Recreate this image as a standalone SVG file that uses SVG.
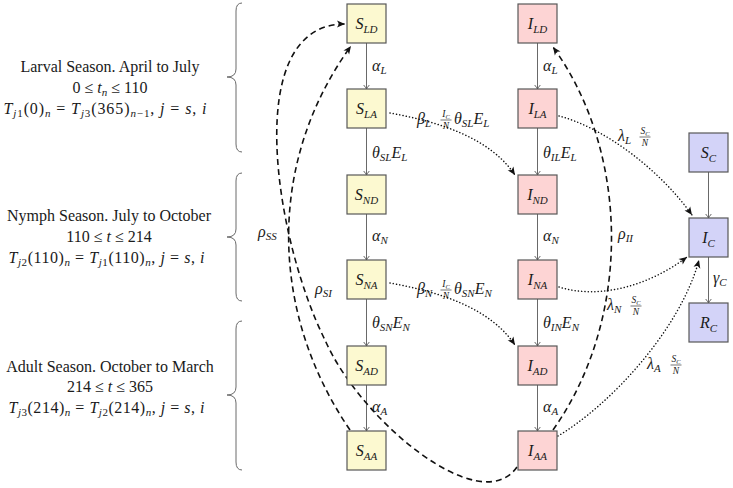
<svg xmlns="http://www.w3.org/2000/svg" width="733" height="488" viewBox="0 0 733 488">
<defs>
<style>
.bx{stroke:#585858;stroke-width:1.2}
.s{fill:#fcf9d0}.i{fill:#fdd4d4}.c{fill:#d3d3f8}
.t{font-family:"Liberation Serif","DejaVu Serif",serif;font-style:italic;font-size:16px;fill:#1a1a1a}
.sb{font-size:11px}
.f{font-family:"Liberation Serif","DejaVu Serif",serif;font-style:italic;font-size:9.5px;fill:#1a1a1a;text-anchor:middle}
.fs{font-size:6.5px}
.fb{stroke:#1a1a1a;stroke-width:0.6}
.tx{font-family:"Liberation Serif","DejaVu Serif",serif;font-size:16px;fill:#1a1a1a;text-anchor:middle}
.it{font-style:italic}
.e{stroke:#585858;stroke-width:0.9;fill:none;marker-end:url(#ga)}
.d{stroke:#111;stroke-width:1.6;fill:none;stroke-dasharray:6 4;marker-end:url(#ba)}
.o{stroke:#111;stroke-width:1.5;fill:none;stroke-dasharray:0.1 3.2;stroke-linecap:round;marker-end:url(#ba)}
.br{stroke:#6a6a6a;stroke-width:1;fill:none}
</style>
<marker id="ga" viewBox="-6 -4 8 8" refX="0" refY="0" markerWidth="8" markerHeight="8" orient="auto" markerUnits="userSpaceOnUse">
<path d="M-4,-2.8 Q-1.5,-0.8 0,0 Q-1.5,0.8 -4,2.8" fill="none" stroke="#585858" stroke-width="0.9"/>
</marker>
<marker id="ba" viewBox="-9 -5 10 10" refX="0" refY="0" markerWidth="10" markerHeight="10" orient="auto" markerUnits="userSpaceOnUse">
<path d="M0,0 L-8,-3.5 L-6,0 L-8,3.5 z" fill="#111"/>
</marker>
</defs>

<g id="seasons">
<path class="br" d="M242,3 Q236,3 236,11 L236,69 Q236,77 227,77 Q236,77 236,85 L236,144 Q236,152 242,152"/>
<path class="br" d="M242,173 Q236,173 236,181 L236,229 Q236,237 227,237 Q236,237 236,245 L236,293 Q236,301 242,301"/>
<path class="br" d="M242,321 Q236,321 236,329 L236,387 Q236,395 227,395 Q236,395 236,403 L236,462 Q236,470 242,470"/>
<text class="tx" x="110" y="72">Larval Season. April to July</text>
<text class="tx" x="110" y="93">0 ≤ <tspan class="it">t</tspan><tspan class="sb it" dy="3">n</tspan><tspan dy="-3"> ≤ 110</tspan></text>
<text class="tx" x="105" y="114" textLength="203" lengthAdjust="spacing"><tspan class="it">T</tspan><tspan class="sb it" dy="3">j</tspan><tspan class="sb">1</tspan><tspan dy="-3">(0)</tspan><tspan class="sb it" dy="3">n</tspan><tspan dy="-3"> = </tspan><tspan class="it">T</tspan><tspan class="sb it" dy="3">j</tspan><tspan class="sb">3</tspan><tspan dy="-3">(365)</tspan><tspan class="sb it" dy="3">n</tspan><tspan class="sb">−1</tspan><tspan dy="-3">, </tspan><tspan class="it">j</tspan> = <tspan class="it">s</tspan>, <tspan class="it">i</tspan></text>
<text class="tx" x="109" y="221">Nymph Season. July to October</text>
<text class="tx" x="109" y="242">110 ≤ <tspan class="it">t</tspan> ≤ 214</text>
<text class="tx" x="106.5" y="263" textLength="196" lengthAdjust="spacing"><tspan class="it">T</tspan><tspan class="sb it" dy="3">j</tspan><tspan class="sb">2</tspan><tspan dy="-3">(110)</tspan><tspan class="sb it" dy="3">n</tspan><tspan dy="-3"> = </tspan><tspan class="it">T</tspan><tspan class="sb it" dy="3">j</tspan><tspan class="sb">1</tspan><tspan dy="-3">(110)</tspan><tspan class="sb it" dy="3">n</tspan><tspan dy="-3">, </tspan><tspan class="it">j</tspan> = <tspan class="it">s</tspan>, <tspan class="it">i</tspan></text>
<text class="tx" x="110" y="372">Adult Season. October to March</text>
<text class="tx" x="110" y="392">214 ≤ <tspan class="it">t</tspan> ≤ 365</text>
<text class="tx" x="106.5" y="413" textLength="196" lengthAdjust="spacing"><tspan class="it">T</tspan><tspan class="sb it" dy="3">j</tspan><tspan class="sb">3</tspan><tspan dy="-3">(214)</tspan><tspan class="sb it" dy="3">n</tspan><tspan dy="-3"> = </tspan><tspan class="it">T</tspan><tspan class="sb it" dy="3">j</tspan><tspan class="sb">2</tspan><tspan dy="-3">(214)</tspan><tspan class="sb it" dy="3">n</tspan><tspan dy="-3">, </tspan><tspan class="it">j</tspan> = <tspan class="it">s</tspan>, <tspan class="it">i</tspan></text>
</g>

<g id="connectors">
<path class="e" d="M366.5,43 V89"/>
<path class="e" d="M366.5,128 V175"/>
<path class="e" d="M366.5,214 V260"/>
<path class="e" d="M366.5,299 V346"/>
<path class="e" d="M366.5,385 V431"/>
<path class="e" d="M537.5,43 V89"/>
<path class="e" d="M537.5,128 V175"/>
<path class="e" d="M537.5,214 V260"/>
<path class="e" d="M537.5,299 V346"/>
<path class="e" d="M537.5,385 V431"/>
<path class="e" d="M708.5,172 V218"/>
<path class="e" d="M708.5,257 V303"/>
<path class="d" d="M350,430 C268,310 268,160 351,46"/>
<path class="d" d="M517,467 C480,520 360,420 325,340 C275,240 240,24 345,24"/>
<path class="d" d="M553,430 C631,320 631,155 553,47"/>
<path class="o" d="M390,113 C440,122 490,138 515,175"/>
<path class="o" d="M559,116 C605,128 660,170 692,215"/>
<path class="o" d="M390,283 C440,292 490,308 515,345"/>
<path class="o" d="M559,287 C600,300 650,285 687,257"/>
<path class="o" d="M558,436 C610,405 680,330 699,260"/>
<text class="t" x="372" y="71">α<tspan class="sb" dy="3">L</tspan></text>
<text class="t" x="372" y="158">θ<tspan class="sb" dy="3">SL</tspan><tspan dy="-3">E</tspan><tspan class="sb" dy="3">L</tspan></text>
<text class="t" x="372" y="241">α<tspan class="sb" dy="3">N</tspan></text>
<text class="t" x="372" y="328">θ<tspan class="sb" dy="3">SN</tspan><tspan dy="-3">E</tspan><tspan class="sb" dy="3">N</tspan></text>
<text class="t" x="372" y="412">α<tspan class="sb" dy="3">A</tspan></text>
<text class="t" x="543" y="71">α<tspan class="sb" dy="3">L</tspan></text>
<text class="t" x="543" y="158">θ<tspan class="sb" dy="3">IL</tspan><tspan dy="-3">E</tspan><tspan class="sb" dy="3">L</tspan></text>
<text class="t" x="543" y="241">α<tspan class="sb" dy="3">N</tspan></text>
<text class="t" x="543" y="328">θ<tspan class="sb" dy="3">IN</tspan><tspan dy="-3">E</tspan><tspan class="sb" dy="3">N</tspan></text>
<text class="t" x="543" y="412">α<tspan class="sb" dy="3">A</tspan></text>
<text class="t" x="713" y="283">γ<tspan class="sb" dy="3">C</tspan></text>
<text class="t" x="258" y="237">ρ<tspan class="sb" dy="3">SS</tspan></text>
<text class="t" x="315" y="294">ρ<tspan class="sb" dy="3">SI</tspan></text>
<text class="t" x="618" y="239">ρ<tspan class="sb" dy="3">II</tspan></text>
<text class="t" x="417" y="124">β<tspan class="sb" dy="3">L</tspan></text>
<text class="f" x="446" y="117">I<tspan class="fs" dy="1.5">C</tspan></text>
<line class="fb" x1="440.5" y1="120" x2="451.5" y2="120"/>
<text class="f" x="446" y="128.5">N</text>
<text class="t" x="454" y="124">θ<tspan class="sb" dy="3">SL</tspan><tspan dy="-3">E</tspan><tspan class="sb" dy="3">L</tspan></text>
<text class="t" x="417" y="294">β<tspan class="sb" dy="3">N</tspan></text>
<text class="f" x="446" y="287">I<tspan class="fs" dy="1.5">C</tspan></text>
<line class="fb" x1="440.5" y1="290" x2="451.5" y2="290"/>
<text class="f" x="446" y="298.5">N</text>
<text class="t" x="454" y="294">θ<tspan class="sb" dy="3">SN</tspan><tspan dy="-3">E</tspan><tspan class="sb" dy="3">N</tspan></text>
<text class="t" x="618" y="141">λ<tspan class="sb" dy="3">L</tspan></text>
<text class="f" x="645" y="134">S<tspan class="fs" dy="1.5">C</tspan></text>
<line class="fb" x1="639.5" y1="137" x2="650.5" y2="137"/>
<text class="f" x="645" y="145.5">N</text>
<text class="t" x="607" y="310">λ<tspan class="sb" dy="3">N</tspan></text>
<text class="f" x="636" y="303">S<tspan class="fs" dy="1.5">C</tspan></text>
<line class="fb" x1="630.5" y1="306" x2="641.5" y2="306"/>
<text class="f" x="636" y="314.5">N</text>
<text class="t" x="647" y="369">λ<tspan class="sb" dy="3">A</tspan></text>
<text class="f" x="676" y="362">S<tspan class="fs" dy="1.5">C</tspan></text>
<line class="fb" x1="670.5" y1="365" x2="681.5" y2="365"/>
<text class="f" x="676" y="373.5">N</text>
</g>

<g id="n-SLD"><rect class="bx s" x="347" y="4" width="39" height="39"/><text class="t" x="366.5" y="29" text-anchor="middle">S<tspan class="sb" dy="3.5">LD</tspan></text></g>
<g id="n-SLA"><rect class="bx s" x="347" y="89" width="39" height="39"/><text class="t" x="366.5" y="114" text-anchor="middle">S<tspan class="sb" dy="3.5">LA</tspan></text></g>
<g id="n-SND"><rect class="bx s" x="347" y="175" width="39" height="39"/><text class="t" x="366.5" y="200" text-anchor="middle">S<tspan class="sb" dy="3.5">ND</tspan></text></g>
<g id="n-SNA"><rect class="bx s" x="347" y="260" width="39" height="39"/><text class="t" x="366.5" y="285" text-anchor="middle">S<tspan class="sb" dy="3.5">NA</tspan></text></g>
<g id="n-SAD"><rect class="bx s" x="347" y="346" width="39" height="39"/><text class="t" x="366.5" y="371" text-anchor="middle">S<tspan class="sb" dy="3.5">AD</tspan></text></g>
<g id="n-SAA"><rect class="bx s" x="347" y="431" width="39" height="39"/><text class="t" x="366.5" y="456" text-anchor="middle">S<tspan class="sb" dy="3.5">AA</tspan></text></g>
<g id="n-ILD"><rect class="bx i" x="518" y="4" width="39" height="39"/><text class="t" x="537.5" y="29" text-anchor="middle">I<tspan class="sb" dy="3.5">LD</tspan></text></g>
<g id="n-ILA"><rect class="bx i" x="518" y="89" width="39" height="39"/><text class="t" x="537.5" y="114" text-anchor="middle">I<tspan class="sb" dy="3.5">LA</tspan></text></g>
<g id="n-IND"><rect class="bx i" x="518" y="175" width="39" height="39"/><text class="t" x="537.5" y="200" text-anchor="middle">I<tspan class="sb" dy="3.5">ND</tspan></text></g>
<g id="n-INA"><rect class="bx i" x="518" y="260" width="39" height="39"/><text class="t" x="537.5" y="285" text-anchor="middle">I<tspan class="sb" dy="3.5">NA</tspan></text></g>
<g id="n-IAD"><rect class="bx i" x="518" y="346" width="39" height="39"/><text class="t" x="537.5" y="371" text-anchor="middle">I<tspan class="sb" dy="3.5">AD</tspan></text></g>
<g id="n-IAA"><rect class="bx i" x="518" y="431" width="39" height="39"/><text class="t" x="537.5" y="456" text-anchor="middle">I<tspan class="sb" dy="3.5">AA</tspan></text></g>
<g id="n-SC"><rect class="bx c" x="689" y="133" width="39" height="39"/><text class="t" x="708.5" y="158" text-anchor="middle">S<tspan class="sb" dy="3.5">C</tspan></text></g>
<g id="n-IC"><rect class="bx c" x="689" y="218" width="39" height="39"/><text class="t" x="708.5" y="243" text-anchor="middle">I<tspan class="sb" dy="3.5">C</tspan></text></g>
<g id="n-RC"><rect class="bx c" x="689" y="303" width="39" height="39"/><text class="t" x="708.5" y="328" text-anchor="middle">R<tspan class="sb" dy="3.5">C</tspan></text></g>
</svg>
